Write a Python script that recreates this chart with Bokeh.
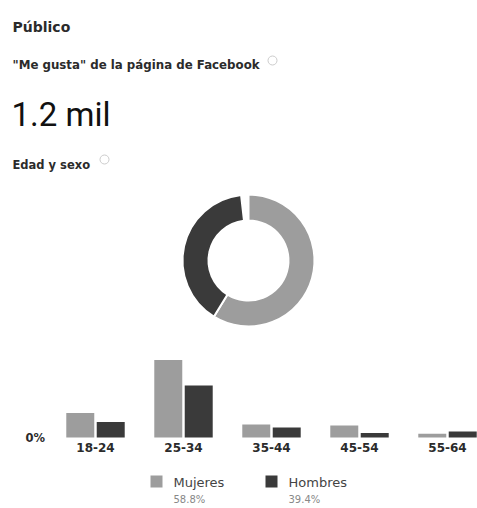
import math
from bokeh.plotting import figure
from bokeh.models import Range1d, ColumnDataSource
from bokeh.core.properties import value
from bokeh.transform import dodge
from bokeh.embed import file_html
from bokeh.resources import INLINE

# ---- data ----
section_title = "Público"
metric_label = '"Me gusta" de la página de Facebook'
metric_value = "1.2 mil"
chart_title = "Edad y sexo"

genders = ["Mujeres", "Hombres"]
gender_pct = [58.8, 39.4]
gender_pct_labels = ["58.8%", "39.4%"]
gender_colors = ["#9d9d9d", "#3a3a3a"]

age_groups = ["18-24", "25-34", "35-44", "45-54", "55-64"]
mujeres = [10.7, 33.7, 5.7, 5.2, 1.6]
hombres = [6.7, 22.6, 4.3, 2.0, 2.6]
zero_label = "0%"

W, H = 477, 508
SANS = "DejaVu Sans"
TXT = "#2b2b2b"

p = figure(width=W, height=H, x_range=Range1d(0, W), y_range=Range1d(0, H),
           output_backend="svg", toolbar_location=None, min_border=0)
p.axis.visible = False
p.grid.visible = False
p.outline_line_color = None
p.background_fill_color = "white"
p.border_fill_color = "white"

# extra scales for the bar chart (category index, percent)
p.extra_x_ranges = {"age": Range1d(-95 / 88, (W - 95) / 88)}
p.extra_y_ranges = {"pct": Range1d(-(H - 437) / 2.3, 437 / 2.3)}


def py(page_y):
    return H - page_y


# ---- header ----
p.text(x=[12], y=[py(26)], text=[section_title], text_font=value(SANS), text_font_style="bold",
       text_font_size="14px", text_baseline="alphabetic", text_color=TXT)
p.text(x=[12], y=[py(64)], text=[metric_label], text_font=value(SANS), text_font_style="bold",
       text_font_size="11.8px", text_baseline="alphabetic", text_color=TXT)
p.scatter(x=[272], y=[py(60)], marker="circle", size=9, fill_color=None,
          line_color="#cccccc", line_width=1)
p.text(x=[11], y=[py(114)], text=[metric_value], text_font=value("Roboto"),
       text_font_size="33px", text_baseline="alphabetic", text_color="#111111")
p.text(x=[12], y=[py(164)], text=[chart_title], text_font=value(SANS), text_font_style="bold",
       text_font_size="11.5px", text_baseline="alphabetic", text_color=TXT)
p.scatter(x=[104], y=[py(159)], marker="circle", size=9, fill_color=None,
          line_color="#cccccc", line_width=1)

# ---- donut ----
cum = [0.0]
for v in gender_pct:
    cum.append(cum[-1] + v)
starts = [math.pi / 2 - 2 * math.pi * c / 100 for c in cum[:-1]]
ends = [math.pi / 2 - 2 * math.pi * c / 100 for c in cum[1:]]
dsrc = ColumnDataSource(dict(start=starts, end=ends, color=gender_colors, name=genders))
p.annular_wedge(x=248, y=py(260), inner_radius=40, outer_radius=66,
                inner_radius_units="screen", outer_radius_units="screen",
                start_angle="start", end_angle="end", direction="clock",
                fill_color="color", line_color="white", line_width=2, source=dsrc)

# ---- bars ----
xs = list(range(len(age_groups)))
bsrc = ColumnDataSource(dict(x=xs, mujeres=mujeres, hombres=hombres, label=age_groups,
                             zero=[0] * len(xs)))
p.vbar(x=dodge("x", -0.173), top="mujeres", bottom=0, width=0.318,
       fill_color=gender_colors[0], line_color=None, source=bsrc,
       x_range_name="age", y_range_name="pct")
p.vbar(x=dodge("x", 0.173), top="hombres", bottom=0, width=0.318,
       fill_color=gender_colors[1], line_color=None, source=bsrc,
       x_range_name="age", y_range_name="pct")
p.text(x="x", y="zero", text="label", source=bsrc, x_range_name="age", y_range_name="pct",
       text_align="center", text_baseline="middle", y_offset=10,
       text_font=value(SANS), text_font_style="bold", text_font_size="12px", text_color=TXT)
p.text(x=[25], y=[0], text=[zero_label], y_range_name="pct",
       text_align="left", text_baseline="middle",
       text_font=value(SANS), text_font_style="bold", text_font_size="11.5px", text_color=TXT)

# ---- legend ----
sw_x = [156 + 115 * i for i in range(len(genders))]
p.scatter(x=sw_x, y=[py(481)] * len(genders), marker="square", size=12,
          fill_color=gender_colors, line_color=None)
p.text(x=[sx + 17 for sx in sw_x], y=[py(482)] * len(genders), text=genders,
       text_font=value(SANS), text_font_size="13px", text_baseline="middle", text_color="#444444")
p.text(x=[sx + 17 for sx in sw_x], y=[py(499)] * len(genders), text=gender_pct_labels,
       text_font=value(SANS), text_font_size="10px", text_baseline="middle", text_color="#888888")

open("out.html", "w").write(file_html(p, INLINE))
